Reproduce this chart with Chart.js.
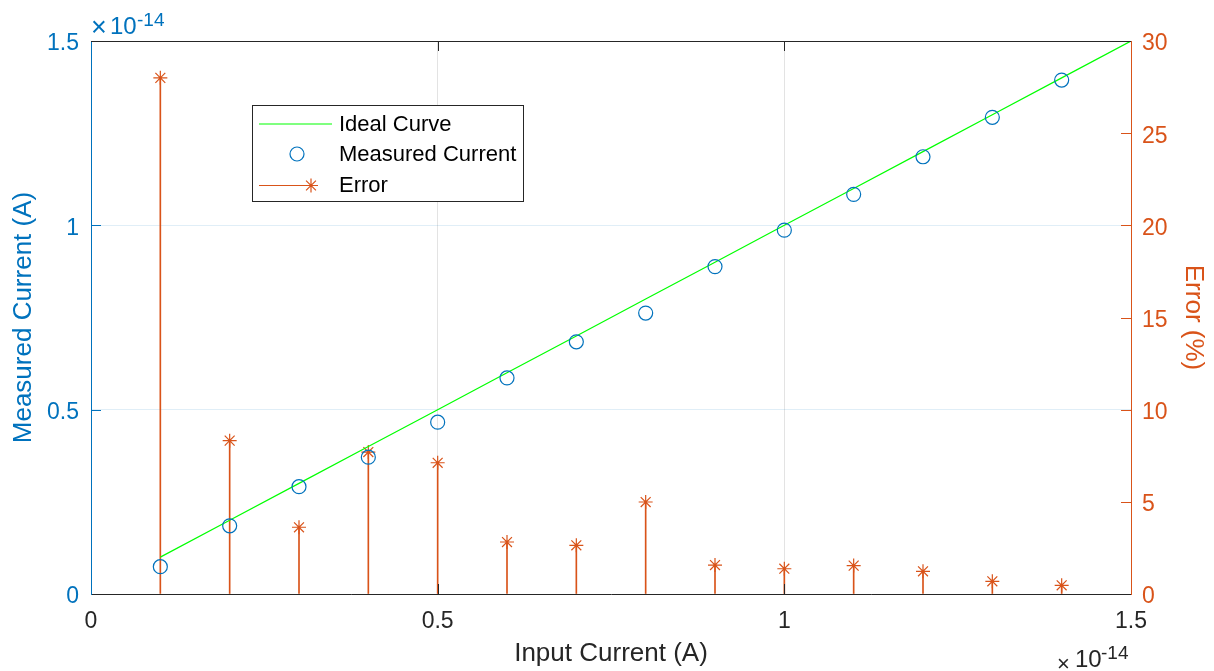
<!DOCTYPE html>
<html>
<head>
<meta charset="utf-8">
<script src="https://cdn.jsdelivr.net/npm/chart.js@4/dist/chart.umd.min.js"></script>
<style>
  html, body { margin: 0; padding: 0; background: #fff; }
  #wrap { width: 1214px; height: 671px; }
</style>
</head>
<body>
<div id="wrap"><canvas id="errChart" width="1214" height="671"></canvas></div>
<script>
// values in units of 1e-14 A (axis exponent shown separately)
const inputCurrent = [0.1, 0.2, 0.3, 0.4, 0.5, 0.6, 0.7, 0.8, 0.9, 1.0, 1.1, 1.2, 1.3, 1.4];
const measuredCurrent = [0.074, 0.185, 0.291, 0.371, 0.466, 0.586, 0.684, 0.762, 0.888, 0.987, 1.084, 1.186, 1.293, 1.394];
const errorPct = [28.0, 8.32, 3.62, 7.70, 7.12, 2.82, 2.64, 4.99, 1.57, 1.37, 1.54, 1.23, 0.69, 0.47];
const idealX = [0.1, 0.2, 0.3, 0.4, 0.5, 0.6, 0.7, 0.8, 0.9, 1.0, 1.1, 1.2, 1.3, 1.4, 1.5];
const idealY = [0.1, 0.2, 0.3, 0.4, 0.5, 0.6, 0.7, 0.8, 0.9, 1.0, 1.1, 1.2, 1.3, 1.4, 1.5];
const xTicks = [0, 0.5, 1, 1.5];
const leftTicks = [0, 0.5, 1, 1.5];
const rightTicks = [0, 5, 10, 15, 20, 25, 30];

const BLUE = '#0072BD';
const ORANGE = '#D95319';
const GREEN = '#00FF00';
const DARK = '#262626';
const FONT = '"Liberation Sans", Arial, sans-serif';

const toXY = (xs, ys) => xs.map((x, i) => ({ x: x, y: ys[i] }));
const fmt = v => String(Number(v));

// inward tick marks, top box edge, exponent labels, legend
const decorPlugin = {
    id: 'decor',
    afterDraw(c) {
        const ctx = c.ctx;
        const a = c.chartArea;
        const sx = c.scales.x, sy = c.scales.y, sy2 = c.scales.y2;
        ctx.save();
        ctx.lineWidth = 1;

        ctx.strokeStyle = DARK;
        ctx.beginPath();
        ctx.moveTo(a.left, a.top + 0.5);
        ctx.lineTo(a.right, a.top + 0.5);
        xTicks.slice(1, -1).forEach(v => {
            const px = Math.round(sx.getPixelForValue(v)) + 0.5;
            ctx.moveTo(px, a.bottom); ctx.lineTo(px, a.bottom - 10);
            ctx.moveTo(px, a.top); ctx.lineTo(px, a.top + 10);
        });
        ctx.stroke();

        ctx.strokeStyle = BLUE;
        ctx.beginPath();
        leftTicks.slice(1, -1).forEach(v => {
            const py = Math.round(sy.getPixelForValue(v)) + 0.5;
            ctx.moveTo(a.left, py); ctx.lineTo(a.left + 10, py);
        });
        ctx.stroke();

        ctx.strokeStyle = ORANGE;
        ctx.beginPath();
        rightTicks.slice(1, -1).forEach(v => {
            const py = Math.round(sy2.getPixelForValue(v)) + 0.5;
            ctx.moveTo(a.right, py); ctx.lineTo(a.right - 10, py);
        });
        ctx.stroke();

        // x10^-14 exponents
        ctx.textBaseline = 'alphabetic';
        ctx.textAlign = 'left';
        ctx.fillStyle = BLUE;
        ctx.font = '27px ' + FONT;
        ctx.fillText('\u00d7', 91, 36);
        ctx.font = '24px ' + FONT;
        ctx.fillText('10', 110, 34);
        ctx.font = '19px ' + FONT;
        ctx.fillText('-14', 137, 26);

        ctx.fillStyle = DARK;
        ctx.font = '22px ' + FONT;
        ctx.fillText('\u00d7', 1057, 671);
        ctx.font = '24px ' + FONT;
        ctx.fillText('10', 1075, 667);
        ctx.font = '19px ' + FONT;
        ctx.fillText('-14', 1101, 659);

        // legend box
        ctx.fillStyle = '#fff';
        ctx.fillRect(252, 105, 272, 97);
        ctx.strokeStyle = DARK;
        ctx.strokeRect(252.5, 105.5, 271, 96);

        ctx.lineWidth = 1.2;
        ctx.strokeStyle = GREEN;
        ctx.beginPath(); ctx.moveTo(259, 124); ctx.lineTo(332, 124); ctx.stroke();
        ctx.strokeStyle = BLUE;
        ctx.beginPath(); ctx.arc(297, 154, 7, 0, Math.PI * 2); ctx.stroke();
        ctx.strokeStyle = ORANGE;
        ctx.beginPath(); ctx.moveTo(259, 185.5); ctx.lineTo(317, 185.5); ctx.stroke();
        Chart.helpers.drawPoint(ctx, { pointStyle: 'star', radius: 7, borderWidth: 1.2 }, 311, 185.5);

        ctx.fillStyle = '#000';
        ctx.font = '22px ' + FONT;
        ctx.textBaseline = 'middle';
        ctx.fillText('Ideal Curve', 339, 125);
        ctx.fillText('Measured Current', 339, 155);
        ctx.fillText('Error', 339, 186);
        ctx.restore();
    }
};

const ctx = document.getElementById('errChart').getContext('2d');
const chart = new Chart(ctx, {
    type: 'scatter',
    data: {
        datasets: [
            {
                type: 'bar',
                label: 'Error stems',
                data: toXY(inputCurrent, errorPct),
                yAxisID: 'y2',
                backgroundColor: ORANGE,
                borderWidth: 0,
                barThickness: 1,
                grouped: false,
                order: 3
            },
            {
                type: 'scatter',
                label: 'Error',
                data: toXY(inputCurrent, errorPct),
                yAxisID: 'y2',
                pointStyle: 'star',
                pointRadius: 7,
                borderColor: ORANGE,
                borderWidth: 1.2,
                order: 2
            },
            {
                type: 'line',
                label: 'Ideal Curve',
                data: toXY(idealX, idealY),
                yAxisID: 'y',
                borderColor: GREEN,
                borderWidth: 1.2,
                pointRadius: 0,
                tension: 0,
                order: 1
            },
            {
                type: 'scatter',
                label: 'Measured Current',
                data: toXY(inputCurrent, measuredCurrent),
                yAxisID: 'y',
                pointStyle: 'circle',
                pointRadius: 7,
                borderColor: BLUE,
                backgroundColor: 'rgba(0,0,0,0)',
                borderWidth: 1.2,
                order: 0
            }
        ]
    },
    options: {
        responsive: false,
        animation: false,
        devicePixelRatio: 1,
        layout: { padding: { top: 41, left: 0, right: 0, bottom: 0 } },
        plugins: {
            legend: { display: false },
            tooltip: { enabled: false }
        },
        scales: {
            x: {
                type: 'linear',
                min: 0, max: 1.5,
                offset: false,
                afterBuildTicks: s => { s.ticks = xTicks.map(v => ({ value: v })); },
                afterFit: s => { s.height = 77; },
                ticks: { color: DARK, font: { family: FONT, size: 23 }, padding: 14, maxRotation: 0, callback: fmt },
                grid: { color: 'rgba(38,38,38,0.13)', drawTicks: false, offset: false },
                border: { color: DARK, width: 1 },
                title: { display: true, text: 'Input Current (A)', color: DARK, font: { family: FONT, size: 26 }, padding: { top: 0, bottom: 2 } }
            },
            y: {
                type: 'linear',
                position: 'left',
                min: 0, max: 1.5,
                afterBuildTicks: s => { s.ticks = leftTicks.map(v => ({ value: v })); },
                afterFit: s => { s.width = 91; },
                ticks: { color: BLUE, font: { family: FONT, size: 23 }, padding: 12, labelOffset: 3, callback: fmt },
                grid: { color: 'rgba(0,114,189,0.12)', drawTicks: false },
                border: { color: BLUE, width: 1 },
                title: { display: true, text: 'Measured Current (A)', color: BLUE, font: { family: FONT, size: 26 }, padding: { top: 8, bottom: 0 } }
            },
            y2: {
                type: 'linear',
                position: 'right',
                min: 0, max: 30,
                afterBuildTicks: s => { s.ticks = rightTicks.map(v => ({ value: v })); },
                afterFit: s => { s.width = 83; },
                ticks: { color: ORANGE, font: { family: FONT, size: 23 }, padding: 11, labelOffset: 3, callback: fmt },
                grid: { drawOnChartArea: false, drawTicks: false },
                border: { color: ORANGE, width: 1 },
                title: { display: true, text: 'Error (%)', color: ORANGE, font: { family: FONT, size: 26 }, padding: { top: 5, bottom: 0 } }
            }
        }
    },
    plugins: [decorPlugin]
});
</script>
</body>
</html>
